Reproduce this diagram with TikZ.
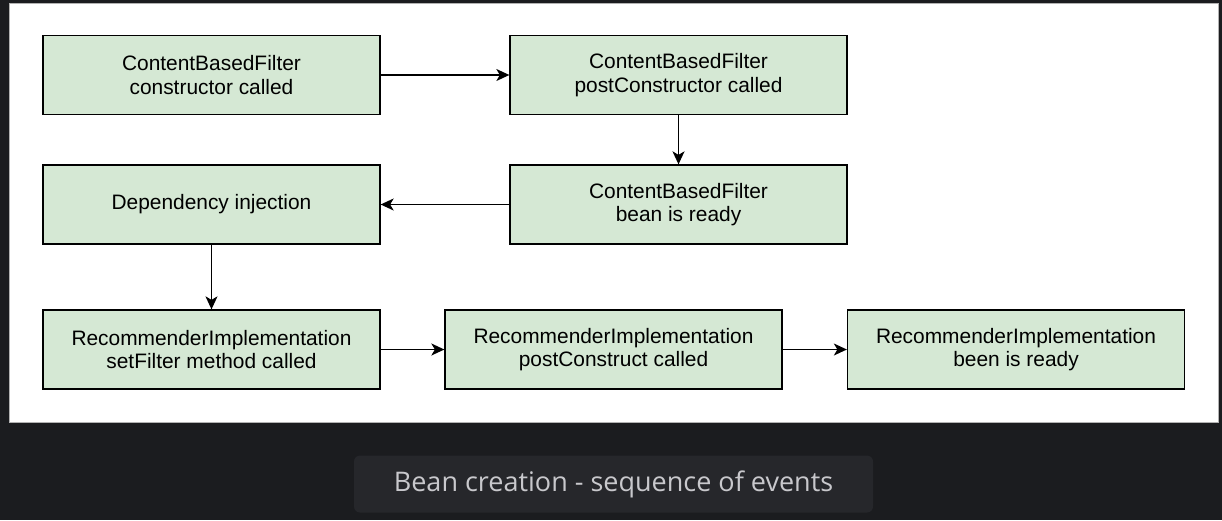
\documentclass[tikz,border=0pt]{standalone}
\usepackage{fontspec}
\setmainfont{Liberation Sans}
\newfontfamily\capfont{Open Sans}
\usetikzlibrary{arrows.meta}
\definecolor{bgdark}{HTML}{1B1C1F}
\definecolor{capbox}{HTML}{26272B}
\definecolor{captext}{HTML}{C8C8CC}
\definecolor{boxfill}{HTML}{D5E8D4}
\begin{document}
\begin{tikzpicture}[x=1pt,y=-1pt,
  evbox/.style={draw=black,line width=1.3pt,fill=boxfill,minimum width=337pt,minimum height=79pt,inner sep=0pt,font=\fontsize{20.9}{23.5}\selectfont,align=center,text=black},
  conn/.style={draw=black,line width=1.4pt,-{Stealth[length=13pt,width=12pt,inset=3.5pt]}}]
\fill[bgdark] (0,0) rectangle (1222,520);
\useasboundingbox (0,0) rectangle (1222,520);
\fill[white] (9,3) rectangle (1218,422);
\draw[gray!60,line width=1pt] (9,3) rectangle (1218,422);
\node[evbox] (a) at (211.5,75) {ContentBasedFilter\\constructor called};
\node[evbox] (b) at (678.5,75) {ContentBasedFilter\\postConstructor called};
\node[evbox] (c) at (678.5,204.5) {ContentBasedFilter\\bean is ready};
\node[evbox] (d) at (211.5,204.5) {Dependency injection};
\node[evbox] (e) at (211.5,349.5) {RecommenderImplementation\\setFilter method called};
\node[evbox] (f) at (613.5,349.5) {RecommenderImplementation\\postConstruct called};
\node[evbox] (g) at (1016,349.5) {RecommenderImplementation\\been is ready};
\draw[conn] (a) -- (b);
\draw[conn] (b) -- (c);
\draw[conn] (c) -- (d);
\draw[conn] (d) -- (e);
\draw[conn] (e) -- (f);
\draw[conn] (f) -- (g);
\node[fill=capbox,rounded corners=6pt,minimum width=519pt,minimum height=57pt,inner sep=0pt,text=captext,font=\capfont\fontsize{27}{32}\selectfont] (cap) at (613.5,484) {\raisebox{-1.5pt}{Bean creation - sequence of events}};
\end{tikzpicture}
\end{document}
